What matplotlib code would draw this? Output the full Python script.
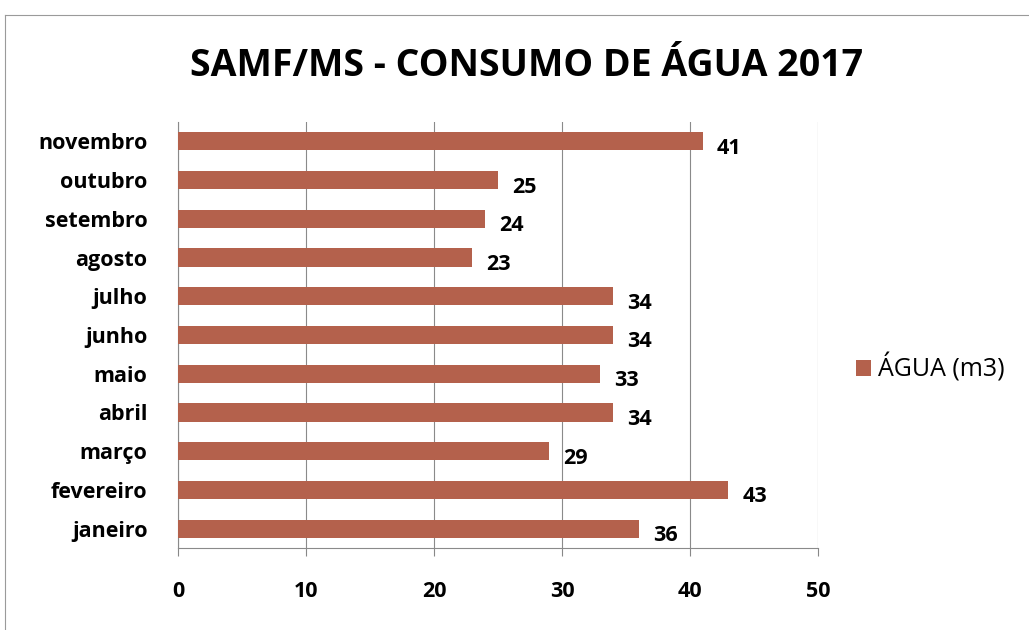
import matplotlib
matplotlib.use("Agg")
import matplotlib.pyplot as plt
from matplotlib.patches import Patch
from matplotlib.lines import Line2D

months = ["janeiro", "fevereiro", "março", "abril", "maio", "junho",
          "julho", "agosto", "setembro", "outubro", "novembro"]
values = [36, 43, 29, 34, 33, 34, 34, 23, 24, 25, 41]
xticks = [0, 10, 20, 30, 40, 50]
title = "SAMF/MS - CONSUMO DE ÁGUA 2017"
series_name = "ÁGUA (m3)"

bar_color = "#B4614C"
font = ["Open Sans", "DejaVu Sans"]

fig = plt.figure(figsize=(10.29, 6.30), dpi=100)
fig.patch.set_facecolor("white")

# outer chart border (top & left visible)
fig.add_artist(Line2D([5/1029, 5/1029], [0, 1-15/630], color="#9a9a9a", lw=0.8,
                      transform=fig.transFigure))
fig.add_artist(Line2D([5/1029, 1], [1-15/630, 1-15/630], color="#9a9a9a", lw=0.8,
                      transform=fig.transFigure))

ax = fig.add_axes([178/1029, 1-548/630, 640/1029, 426/630])
y = list(range(len(months)))
ax.barh(y, values, height=0.47, color=bar_color, zorder=3)
ax.set_xlim(0, 50)
ax.set_ylim(-0.5, len(months)-0.5)
ax.set_yticks(y)
ax.set_yticklabels(months, fontsize=15.5, fontweight="bold", family=font)
ax.set_xticks(xticks)
ax.set_xticklabels([str(t) for t in xticks], fontsize=15.5, fontweight="bold", family=font)
ax.tick_params(axis="y", length=0, pad=22)
ax.tick_params(axis="x", length=6, color="#888888", pad=18, direction="out")
ax.grid(axis="x", color="#8a8a8a", lw=0.8, zorder=0)
for s in ["top", "right"]:
    ax.spines[s].set_visible(False)
ax.spines["bottom"].set_color("#8a8a8a")
ax.spines["bottom"].set_linewidth(0.8)
ax.spines["left"].set_color("#8a8a8a")
ax.spines["left"].set_linewidth(0.8)

for yi, v in zip(y, values):
    ax.annotate(str(v), (v, yi), xytext=(10, -5), textcoords="offset points",
                ha="left", va="center", fontsize=15.5, fontweight="bold", family=font)

fig.text(0.512, 1-66/630, title, ha="center", va="center", fontsize=27,
         fontweight="bold", family=font)

fig.legend(handles=[Patch(facecolor=bar_color, edgecolor="none")], labels=[series_name],
           loc="center left", bbox_to_anchor=(856/1029, 1-368/630), frameon=False,
           prop={"family": font, "size": 18}, handlelength=0.6, handleheight=0.6,
           handletextpad=0.3, borderaxespad=0, borderpad=0)

fig.savefig("out.png", dpi=100, facecolor="white")
